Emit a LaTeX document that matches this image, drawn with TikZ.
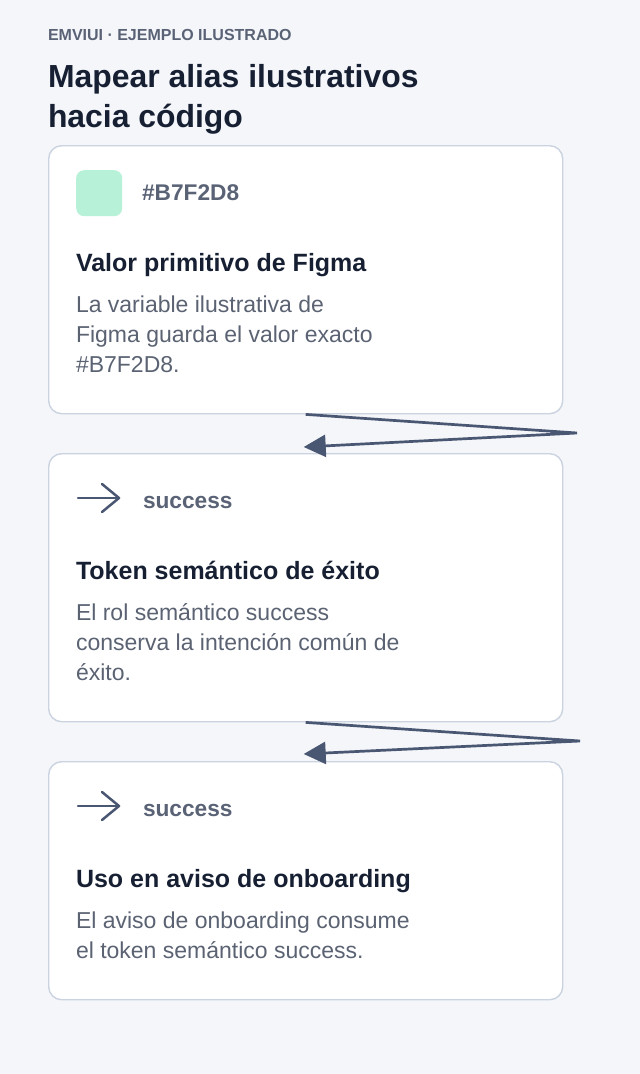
\documentclass[tikz,border=0pt]{standalone}
\usepackage{fontspec}
\setmainfont{Liberation Sans}
\usetikzlibrary{arrows.meta}
\definecolor{bgc}{HTML}{F4F6FA}
\definecolor{cardline}{HTML}{CBD3E0}
\definecolor{ink}{HTML}{172033}
\definecolor{muted}{HTML}{5A6376}
\definecolor{body}{HTML}{5B6373}
\definecolor{conn}{HTML}{4A5772}
\definecolor{swatch}{HTML}{B7F2D8}
\begin{document}
\begin{tikzpicture}[x=1pt,y=-1pt,
  card/.style={draw=cardline, line width=1.4pt, fill=white, rounded corners=13pt,
    minimum width=514pt, anchor=north west, inner sep=0pt},
  txt/.style={anchor=base west, inner sep=0pt, outer sep=0pt, align=left},
  eyebrow/.style={txt, text=muted, font=\fontsize{16}{18}\selectfont\bfseries},
  headline/.style={txt, text=ink, font=\fontsize{31.9}{40.5}\selectfont\bfseries},
  chiptext/.style={txt, text=muted, font=\fontsize{22.7}{27}\selectfont\bfseries},
  cardtitle/.style={txt, text=ink, font=\fontsize{25}{30}\selectfont\bfseries},
  bodytext/.style={txt, text=body, font=\fontsize{23}{30}\selectfont},
  flow/.style={draw=conn, line width=2.7pt, -{Triangle[length=22pt,width=22pt]}},
  icon/.style={draw=conn, line width=2.5pt, line cap=round, line join=round}
]
\useasboundingbox (0,0) rectangle (640,1074);
\fill[bgc] (0,0) rectangle (640,1074);

% multi-line nodes are placed by the baseline of their last line
\node[eyebrow] (eyebrow) at (48,40) {EMVIUI · EJEMPLO ILUSTRADO};
\node[headline] (title) at (48,127.5) {Mapear alias ilustrativos\\hacia código};

% cards
\node[card, minimum height=268pt] (card1) at (48,145) {};
\node[card, minimum height=268pt] (card2) at (48,453) {};
\node[card, minimum height=238pt] (card3) at (48,761) {};

% card 1
\node[fill=swatch, rounded corners=8pt, minimum width=46pt, minimum height=46pt,
  inner sep=0pt, anchor=north west] (sw) at (76,170) {};
\node[chiptext] (hex) at (142,200) {\#B7F2D8};
\node[cardtitle] (t1) at (76,271) {Valor primitivo de Figma};
\node[bodytext] (b1) at (76,372) {La variable ilustrativa de\\Figma guarda el valor exacto\\\#B7F2D8.};

% card 2
\coordinate (i2a) at (78,498);
\coordinate (i2b) at (119,498);
\draw[icon] (i2a) -- (i2b);
\draw[icon] (102,484) -- (i2b) -- (102,512);
\node[chiptext] (s2) at (143,508) {success};
\node[cardtitle] (t2) at (76,579) {Token semántico de éxito};
\node[bodytext] (b2) at (76,680) {El rol semántico success\\conserva la intención común de\\éxito.};

% card 3
\coordinate (i3a) at (78,806);
\coordinate (i3b) at (119,806);
\draw[icon] (i3a) -- (i3b);
\draw[icon] (102,792) -- (i3b) -- (102,820);
\node[chiptext] (s3) at (143,816) {success};
\node[cardtitle] (t3) at (76,887) {Uso en aviso de onboarding};
\node[bodytext] (b3) at (76,958) {El aviso de onboarding consume\\el token semántico success.};

% connectors
\coordinate (turn1) at (577,433);
\coordinate (turn2) at (580,741);
\draw[flow] (card1.south) -- (turn1) -- ([xshift=-2pt,yshift=6pt]card2.north);
\draw[flow] (card2.south) -- (turn2) -- ([xshift=-2pt,yshift=7pt]card3.north);
\end{tikzpicture}
\end{document}
